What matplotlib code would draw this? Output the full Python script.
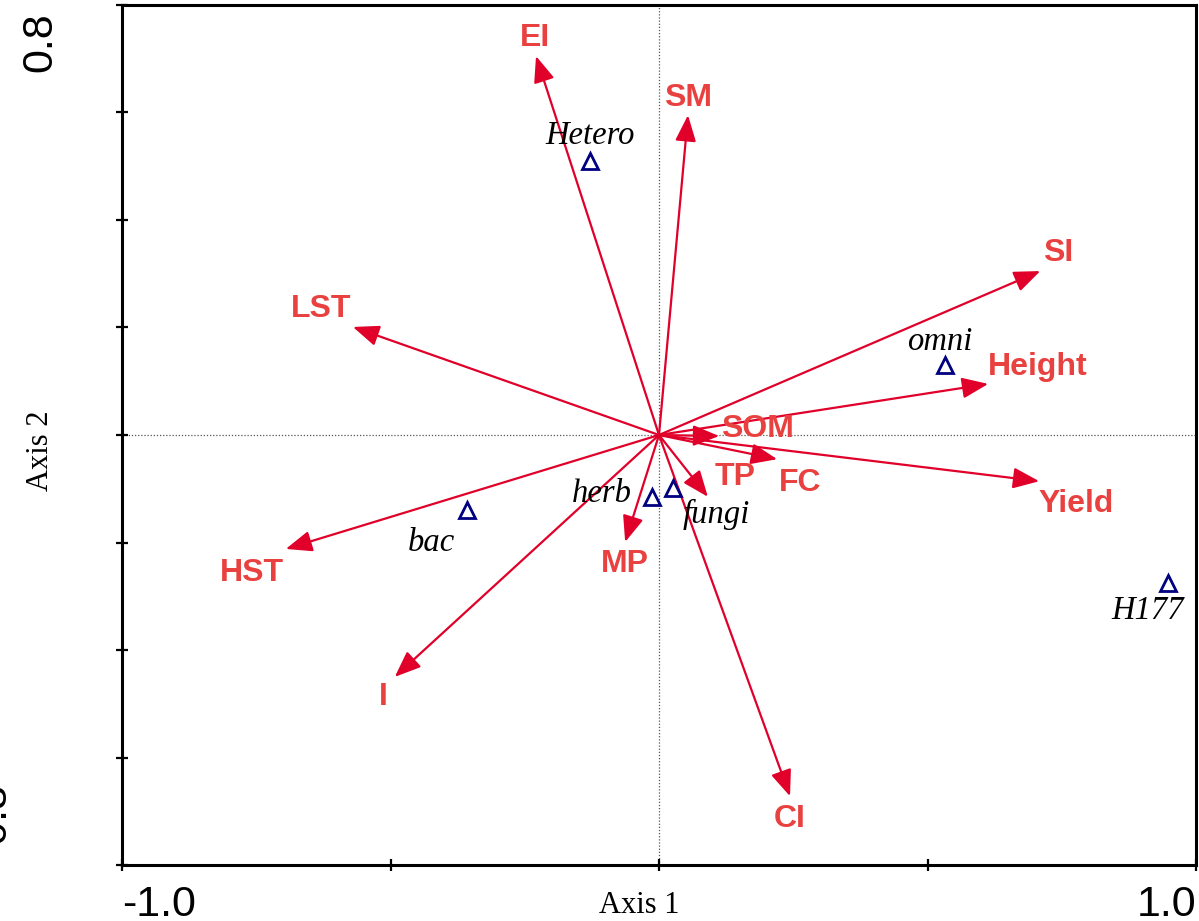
import matplotlib.pyplot as plt

# environmental variable arrows (axis 1, axis 2 scores)
env_names = ['EI', 'SM', 'SI', 'Height', 'SOM', 'FC', 'TP', 'Yield',
             'CI', 'MP', 'I', 'HST', 'LST']
env_x = [-0.229, 0.054, 0.710, 0.613, 0.112, 0.220, 0.091, 0.708,
         0.244, -0.063, -0.492, -0.695, -0.570]
env_y = [0.705, 0.595, 0.305, 0.095, -0.002, -0.045, -0.115, -0.086,
         -0.672, -0.199, -0.450, -0.212, 0.201]

# nematode feeding groups / indices
spp_names = ['Hetero', 'omni', 'H177', 'bac', 'herb', 'fungi']
spp_x = [-0.128, 0.533, 0.948, -0.358, -0.013, 0.026]
spp_y = [0.510, 0.130, -0.275, -0.140, -0.115, -0.099]

# label offsets from the arrow tip / symbol, in pixels (x right, y up)
env_off = [(-1, 18), (0, 17), (18, 18), (50, 17), (38, 7), (23, -24),
           (27, 20), (37, -23), (0, -23), (0, -22), (-11, -20),
           (-34, -24), (-32, 18)]
spp_off = [(0, 25), (-6, 23), (-20, -28), (-35, -32), (-50, 3), (43, -26)]

arrow_col = '#e0002a'
label_col = '#e8413f'
px = 72 / 100  # pixels -> points at dpi 100

fig = plt.figure(figsize=(11.99, 9.21), dpi=100)
ax = fig.add_axes([122 / 1199, 56 / 921, 1074 / 1199, 860 / 921])
ax.set_xlim(-1.0, 1.0)
ax.set_ylim(-0.8, 0.8)

ax.axhline(0, color='#555555', lw=0.9, ls=(0, (1, 1.5)), zorder=1)
ax.axvline(0, color='#555555', lw=0.9, ls=(0, (1, 1.5)), zorder=1)

for name, x, y, (dx, dy) in zip(env_names, env_x, env_y, env_off):
    ax.annotate('', xy=(x, y), xytext=(0, 0),
                arrowprops=dict(arrowstyle='-|>,head_length=0.8,head_width=0.32',
                                mutation_scale=20, color=arrow_col, lw=1.6,
                                shrinkA=0, shrinkB=0), zorder=3)
    ax.annotate(name, xy=(x, y), xytext=(dx * px, dy * px),
                textcoords='offset points', ha='center', va='center',
                fontsize=23, fontweight='bold', family='Liberation Sans',
                color=label_col, zorder=4)

ax.plot(spp_x, spp_y, ls='none', marker='^', ms=12, mfc='none',
        mec='#000080', mew=2, zorder=5)
for name, x, y, (dx, dy) in zip(spp_names, spp_x, spp_y, spp_off):
    ax.annotate(name, xy=(x, y), xytext=(dx * px, dy * px),
                textcoords='offset points', ha='center', va='center',
                fontsize=23.5, style='italic', family='Liberation Serif',
                color='black', zorder=6)

for s in ax.spines.values():
    s.set_linewidth(2.2)
ax.set_xticks([-1.0, -0.5, 0.0, 0.5, 1.0])
ax.set_yticks([-0.8, -0.6, -0.4, -0.2, 0.0, 0.2, 0.4, 0.6, 0.8])
ax.tick_params(direction='inout', length=9, width=1.6, labelbottom=False,
               labelleft=False)

# end labels of the axes
tick_font = dict(fontsize=31, family='Liberation Sans', color='black')
fig.text(122 / 1199, 1 - 916 / 921, '-1.0', ha='left', va='baseline', **tick_font)
fig.text(1196 / 1199, 1 - 916 / 921, '1.0', ha='right', va='baseline', **tick_font)
fig.text(40 / 1199, 1 - 42 / 921, '0.8', rotation=90, ha='center', va='center',
         **tick_font)
fig.text(-6 / 1199, 1 - 820 / 921, '-0.8', rotation=90, ha='center', va='center',
         **tick_font)

fig.text(639 / 1199, 1 - 905 / 921, 'Axis 1', ha='center', va='center',
         fontsize=22, family='Liberation Serif')
fig.text(40 / 1199, 1 - 451 / 921, 'Axis 2', rotation=90, ha='center',
         va='center', fontsize=22, family='Liberation Serif')

fig.savefig('out.png', dpi=100)
